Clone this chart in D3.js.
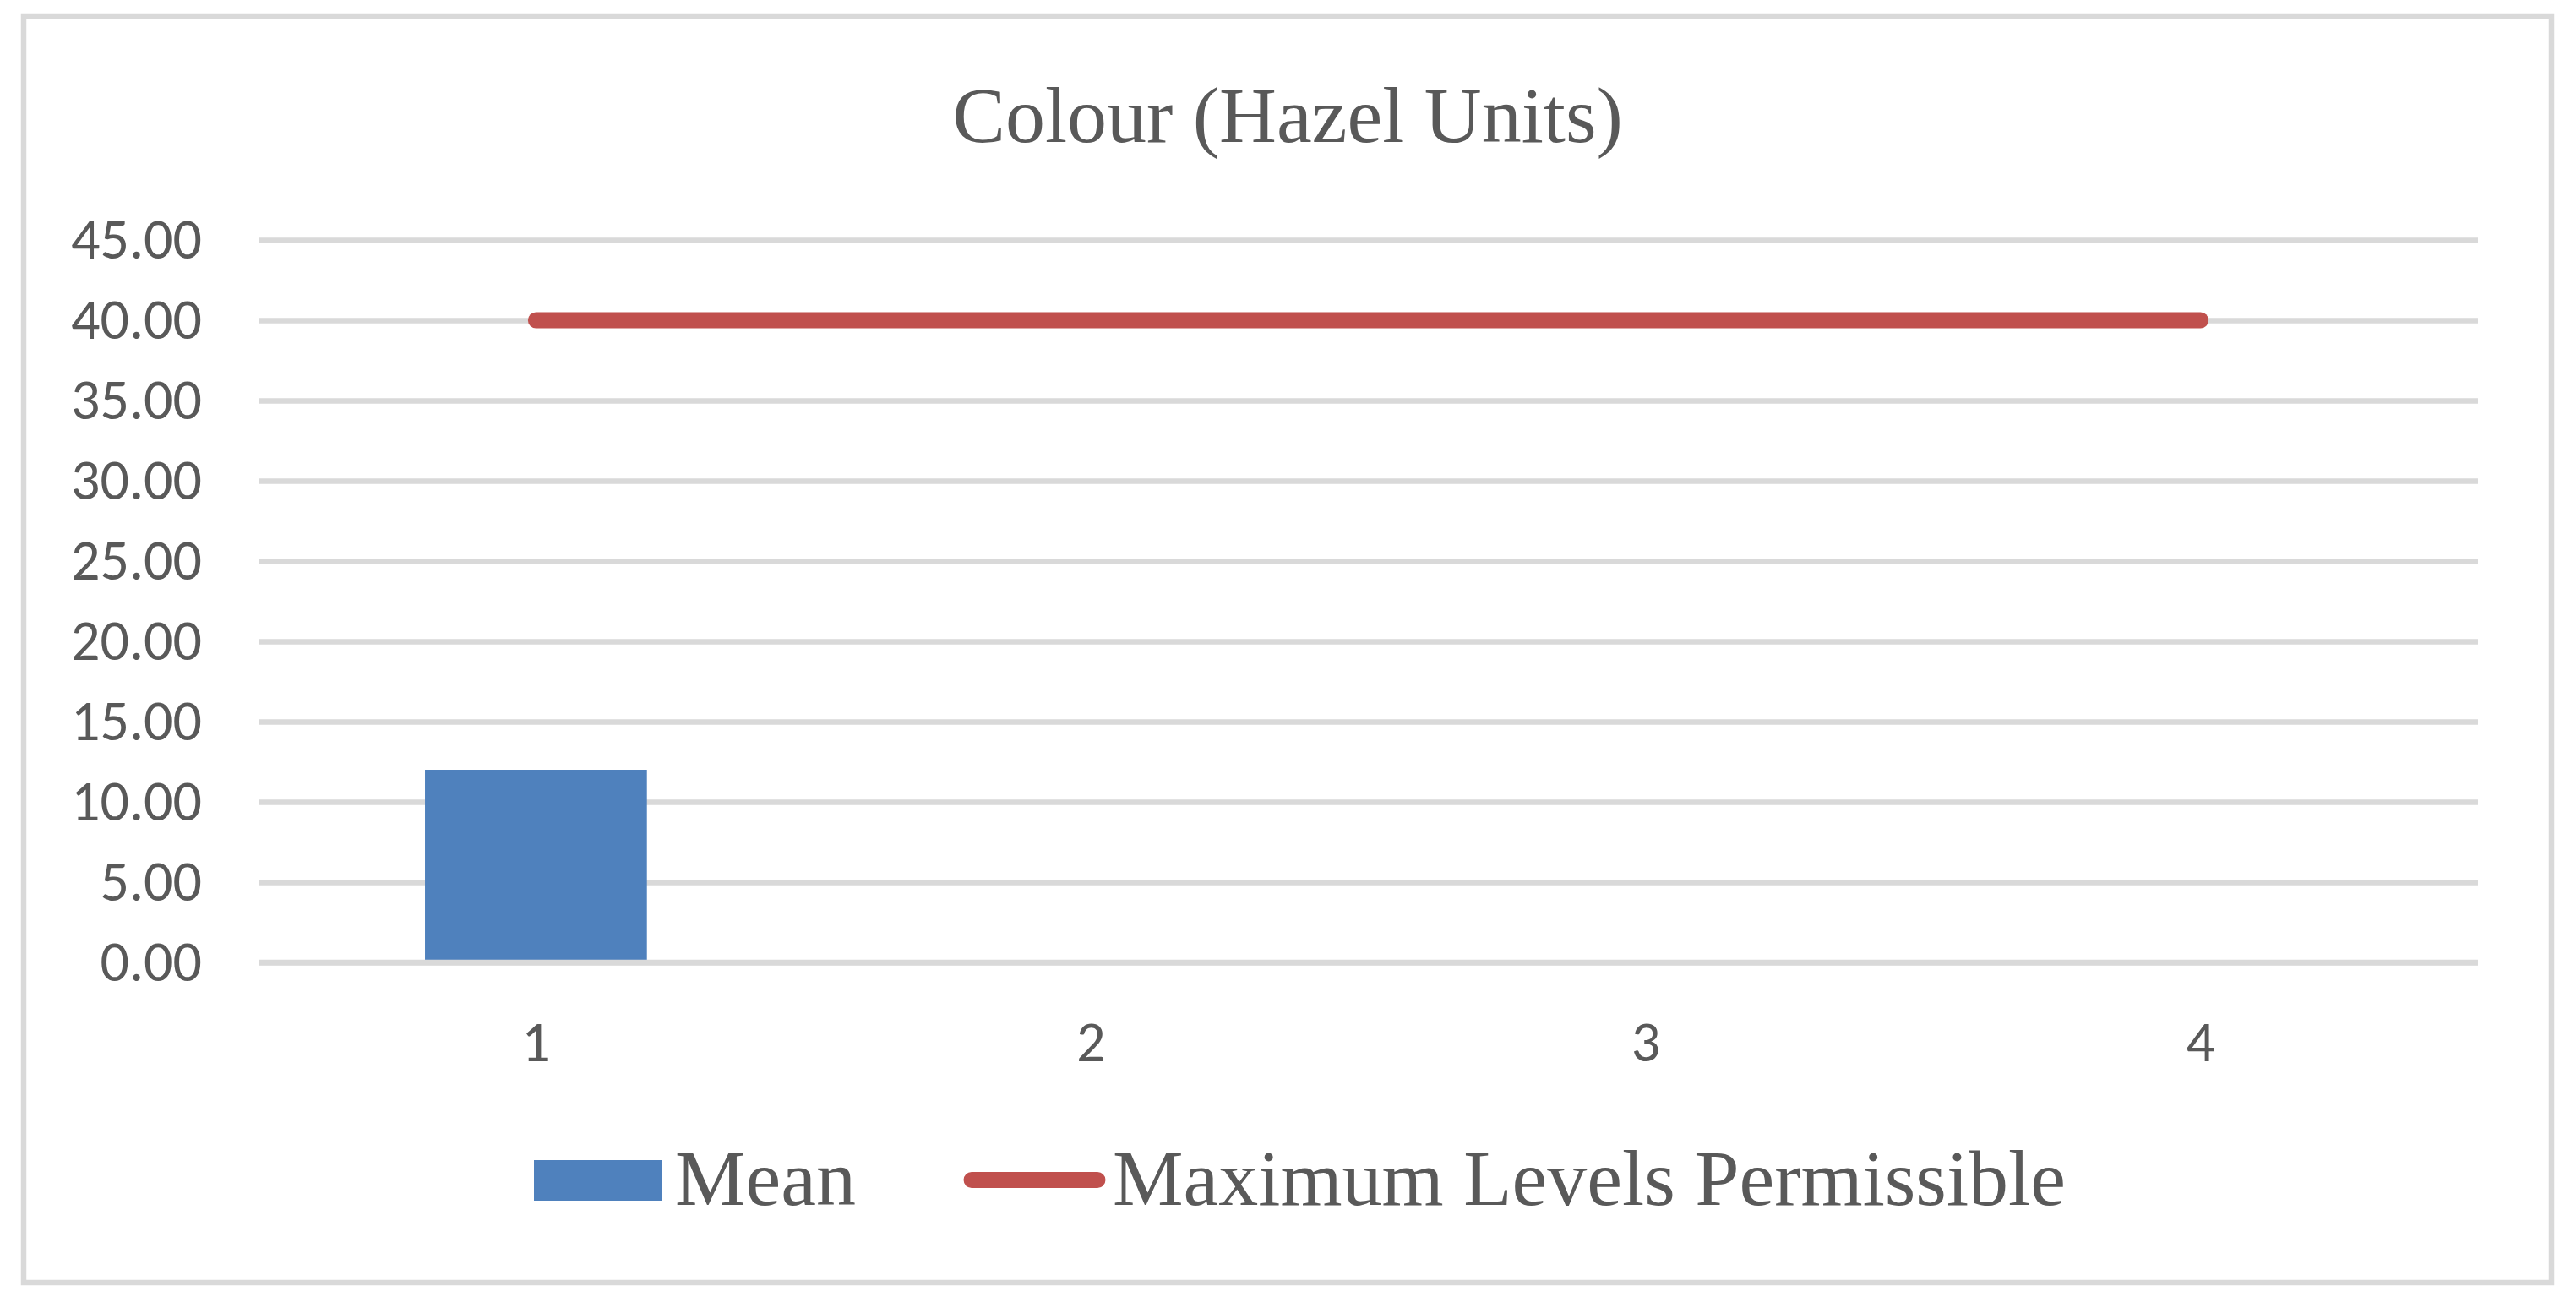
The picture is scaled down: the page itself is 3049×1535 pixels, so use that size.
<!DOCTYPE html>
<html>
<head>
<meta charset="utf-8">
<script src="https://cdn.jsdelivr.net/npm/d3@7"></script>
<style>
	body { margin: 0; background: #fff; }
	.tick text { fill: #595959; font-family: Carlito, "Liberation Sans Narrow", "DejaVu Sans Condensed", sans-serif; }
</style>
</head>
<body>
<div id="chart"></div>
<script>
// chart values
var categories = ["1", "2", "3", "4"];
var meanValues = [12.00, null, null, null];
var maxPermissible = [40, 40, 40, 40];
var yTicks = [0, 5, 10, 15, 20, 25, 30, 35, 40, 45];
var titleText = "Colour (Hazel Units)";
var legendNames = ["Mean", "Maximum Levels Permissible"];

drawChart("chart");

function drawChart(container){
	var W = 3049, H = 1535;
	var plot = { left: 306, right: 2933, top: 284, bottom: 1139 };

	var svg = d3.select("#" + container).append("svg")
		.attr("width", W)
		.attr("height", H);

	// outer frame
	svg.append("rect")
		.attr("x", 28).attr("y", 19)
		.attr("width", 2992).attr("height", 1499)
		.attr("fill", "#fff")
		.attr("stroke", "#d9d9d9")
		.attr("stroke-width", 6.5);

	svg.append("text")
		.attr("x", 1524).attr("y", 168)
		.attr("text-anchor", "middle")
		.style("font-family", "'Liberation Serif', 'Times New Roman', serif")
		.style("font-size", "94px")
		.style("fill", "#595959")
		.text(titleText);

	var x = d3.scaleBand().domain(categories).range([plot.left, plot.right]).padding(0);
	var y = d3.scaleLinear().domain([0, 45]).range([plot.bottom, plot.top]);

	// gridlines + labels
	var yAxis = d3.axisLeft(y)
		.tickValues(yTicks)
		.tickFormat(d3.format(".2f"))
		.tickSizeInner(-(plot.right - plot.left))
		.tickSizeOuter(0)
		.tickPadding(67);
	var yG = svg.append("g")
		.attr("transform", "translate(" + plot.left + ",0)")
		.call(yAxis);
	yG.select(".domain").remove();
	yG.selectAll(".tick line").attr("stroke", "#d9d9d9").attr("stroke-width", 6.5);
	yG.selectAll(".tick text").style("font-size", "68px");

	// bars
	var barW = x.bandwidth() * 0.4;
	svg.append("g").selectAll("rect")
		.data(meanValues.map(function(v, i){ return { c: categories[i], v: v }; })
			.filter(function(d){ return d.v != null; }))
		.enter().append("rect")
		.attr("x", function(d){ return x(d.c) + (x.bandwidth() - barW) / 2; })
		.attr("y", function(d){ return y(d.v); })
		.attr("width", barW)
		.attr("height", function(d){ return y(0) - y(d.v); })
		.attr("fill", "#4f81bd");

	// zero line back on top of the bar
	svg.append("line")
		.attr("x1", plot.left).attr("x2", plot.right)
		.attr("y1", y(0)).attr("y2", y(0))
		.attr("stroke", "#d9d9d9").attr("stroke-width", 6.5);

	var line = d3.line()
		.x(function(d, i){ return x(categories[i]) + x.bandwidth() / 2; })
		.y(function(d){ return y(d); });
	svg.append("path")
		.datum(maxPermissible)
		.attr("d", line)
		.attr("fill", "none")
		.attr("stroke", "#c0504d")
		.attr("stroke-width", 19)
		.attr("stroke-linecap", "round");

	var xAxis = d3.axisBottom(x).tickSize(0).tickPadding(69);
	var xG = svg.append("g")
		.attr("transform", "translate(0," + plot.bottom + ")")
		.call(xAxis);
	xG.select(".domain").remove();
	xG.selectAll(".tick text").style("font-size", "68px");

	// legend
	var leg = svg.append("g").style("font-family", "'Liberation Serif', 'Times New Roman', serif");
	leg.append("rect")
		.attr("x", 632).attr("y", 1373)
		.attr("width", 151).attr("height", 48)
		.attr("fill", "#4f81bd");
	leg.append("line")
		.attr("x1", 1150).attr("x2", 1299)
		.attr("y1", 1396.5).attr("y2", 1396.5)
		.attr("stroke", "#c0504d").attr("stroke-width", 19)
		.attr("stroke-linecap", "round");
	leg.selectAll("text")
		.data(legendNames)
		.enter().append("text")
		.attr("x", function(d, i){ return i == 0 ? 799 : 1317; })
		.attr("y", 1426)
		.style("font-size", "94px")
		.style("fill", "#595959")
		.text(function(d){ return d; });
}
</script>
</body>
</html>
